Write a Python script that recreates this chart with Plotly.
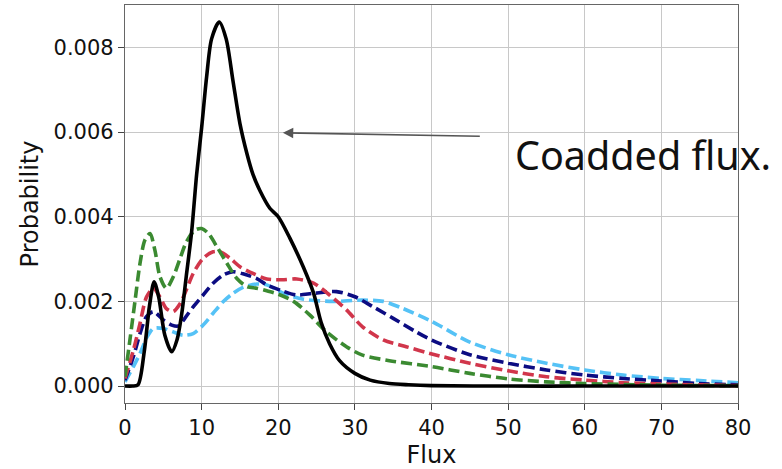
import plotly.graph_objects as go

# ---- data ----
black_x = [0, 1, 1.7, 2.5, 3.2, 3.8, 4.4, 5.2, 6.1, 6.8, 7.4, 8.0, 8.7, 9.35, 10, 10.65, 11.3, 12.3, 13.2, 14.1,
           15.0, 15.9, 16.7, 17.6, 18.9, 20, 21.5, 23.3, 24.6, 25.6, 26.7, 28, 30, 32, 34.5, 37, 40, 50, 60, 70, 80]
black_y = [0, 0, 0.00003, 0.0008, 0.0019, 0.00246, 0.0021, 0.0012, 0.00081, 0.0011, 0.0017, 0.0026, 0.00365, 0.0050,
           0.0061, 0.0073, 0.0082, 0.0086, 0.0082, 0.0072, 0.0062, 0.0055, 0.0050, 0.00462, 0.0042, 0.0040, 0.0035,
           0.0028, 0.0022, 0.0015, 0.0010, 0.0006, 0.0003, 0.00014, 0.00006, 0.00003, 0.00001, 0, 0, 0, 0]

green_x = [0, 0.65, 1.3, 1.96, 2.6, 3.26, 3.9, 4.57, 5.4, 6.3, 7.2, 8, 9.1, 10, 10.9, 12, 13.3, 14.6, 15.9, 17.2,
           18.5, 20, 22, 24.1, 26.3, 28.9, 31, 34.5, 40, 45, 50, 55, 60, 70, 80]
green_y = [0.00022, 0.0011, 0.002, 0.0029, 0.00345, 0.0036, 0.00321, 0.00258, 0.00231, 0.00258, 0.00302, 0.0034,
           0.00368, 0.00372, 0.0036, 0.00329, 0.0029, 0.00254, 0.00235, 0.00231, 0.00225, 0.00217, 0.002, 0.00168,
           0.00128, 0.00093, 0.00073, 0.0006, 0.00046, 0.0003, 0.00017, 0.0001, 0.00006, 0.00002, 0.00001]

red_x = [0, 1.1, 1.96, 2.8, 3.7, 4.57, 5.4, 6.3, 7.2, 8, 8.9, 10.2, 11.5, 12.4, 13.7, 15, 16.7, 18.5, 20.5, 22.4,
         24.6, 26.7, 28.9, 31, 33.7, 36.7, 39.8, 45, 50, 55, 60, 65, 70, 80]
red_y = [0.00018, 0.00085, 0.00148, 0.0021, 0.00231, 0.0021, 0.00183, 0.00176, 0.00195, 0.00227, 0.00266, 0.00302,
         0.00317, 0.00317, 0.00302, 0.00282, 0.00266, 0.00253, 0.00251, 0.00253, 0.00243, 0.00215, 0.0018, 0.0014,
         0.00109, 0.00093, 0.00077, 0.00054, 0.00036, 0.00022, 0.00014, 0.00008, 0.00005, 0.00001]

navy_x = [0, 1.1, 1.96, 2.8, 3.7, 5, 6.1, 7, 7.8, 8.9, 10.2, 11.5, 12.8, 14.1, 15.4, 17.2, 18.5, 20.5, 22.4, 24.6,
          27.6, 30, 32.4, 35, 38, 40, 45, 50, 55, 60, 65, 70, 75, 80]
navy_y = [0.00014, 0.0007, 0.00124, 0.00164, 0.00176, 0.00156, 0.00144, 0.00142, 0.0016, 0.00187, 0.00215, 0.00243,
          0.00262, 0.0027, 0.00265, 0.00254, 0.00239, 0.00225, 0.00215, 0.00219, 0.00223, 0.00211, 0.00187, 0.0016,
          0.00128, 0.00109, 0.00074, 0.00054, 0.00038, 0.00026, 0.00018, 0.00012, 0.00006, 0.00003]

lblue_x = [0, 1.1, 1.96, 2.8, 3.7, 5, 6.3, 7.6, 8.9, 10.2, 11.5, 12.8, 14.1, 15.4, 17.2, 18.5, 20.7, 23.3, 27.2, 31,
           33.7, 36.3, 40, 45, 50, 55, 60, 65, 70, 75, 80]
lblue_y = [0.0001, 0.00046, 0.00077, 0.00113, 0.00136, 0.00136, 0.00128, 0.0012, 0.00124, 0.00144, 0.00172, 0.00199,
           0.00219, 0.00233, 0.00241, 0.00239, 0.00219, 0.00205, 0.002, 0.00203, 0.002, 0.00183, 0.00153, 0.00104,
           0.00074, 0.00054, 0.00038, 0.00026, 0.00018, 0.00013, 0.00008]

x_ticks = [0, 10, 20, 30, 40, 50, 60, 70, 80]
y_ticks = [0.0, 0.002, 0.004, 0.006, 0.008]
y_tick_labels = ["0.000", "0.002", "0.004", "0.006", "0.008"]

# arrow annotation (data coordinates)
arrow_head = (20.6, 0.00598)
arrow_tail = (46.5, 0.0059)
label_text = "Coadded flux."
label_pos = (50.6, 0.00545)

fig = go.Figure()
dash = "11px,5px"
for xs, ys, col in [(lblue_x, lblue_y, "#55c2f6"), (navy_x, navy_y, "#0c0c82"),
                    (red_x, red_y, "#d1364b"), (green_x, green_y, "#3b8a31")]:
    fig.add_trace(go.Scatter(x=xs, y=ys, mode="lines",
                             line=dict(color=col, width=3.6, dash=dash, shape="spline", smoothing=0.8),
                             showlegend=False, hoverinfo="skip"))
fig.add_trace(go.Scatter(x=black_x, y=black_y, mode="lines",
                         line=dict(color="black", width=3.6, shape="spline", smoothing=0.8),
                         showlegend=False, hoverinfo="skip"))

fig.add_annotation(x=arrow_head[0], y=arrow_head[1], ax=arrow_tail[0], ay=arrow_tail[1],
                   xref="x", yref="y", axref="x", ayref="y", text="", showarrow=True,
                   arrowhead=2, arrowsize=1.3, arrowwidth=1.6, arrowcolor="#555555")
fig.add_annotation(x=label_pos[0], y=label_pos[1], xref="x", yref="y", text=label_text,
                   showarrow=False, xanchor="left", yanchor="middle",
                   font=dict(family="Noto Sans", size=39.5, color="#111111"))

axis_common = dict(showgrid=True, gridcolor="#c8c8c8", gridwidth=1, showline=True, linecolor="#666666",
                   linewidth=1.2, mirror=True, ticks="outside", ticklen=6, tickcolor="#444444",
                   tickfont=dict(family="DejaVu Sans", size=21, color="#111111"), zeroline=False)
fig.update_xaxes(range=[0, 80], tickvals=x_ticks, ticktext=[str(v) for v in x_ticks],
                 title=dict(text="Flux", font=dict(family="DejaVu Sans", size=24, color="#111111"), standoff=6),
                 **axis_common)
fig.update_yaxes(range=[-0.0004, 0.009], tickvals=y_ticks, ticktext=y_tick_labels,
                 title=dict(text="Probability", font=dict(family="DejaVu Sans", size=24, color="#111111"), standoff=8),
                 **axis_common)
fig.update_layout(width=782, height=469, margin=dict(l=125, r=44, t=5, b=66, autoexpand=False),
                  plot_bgcolor="white", paper_bgcolor="white")
fig.write_html("out.html", config={"displayModeBar": False},
               post_script="document.body.style.margin='0';document.body.style.overflow='hidden';")
